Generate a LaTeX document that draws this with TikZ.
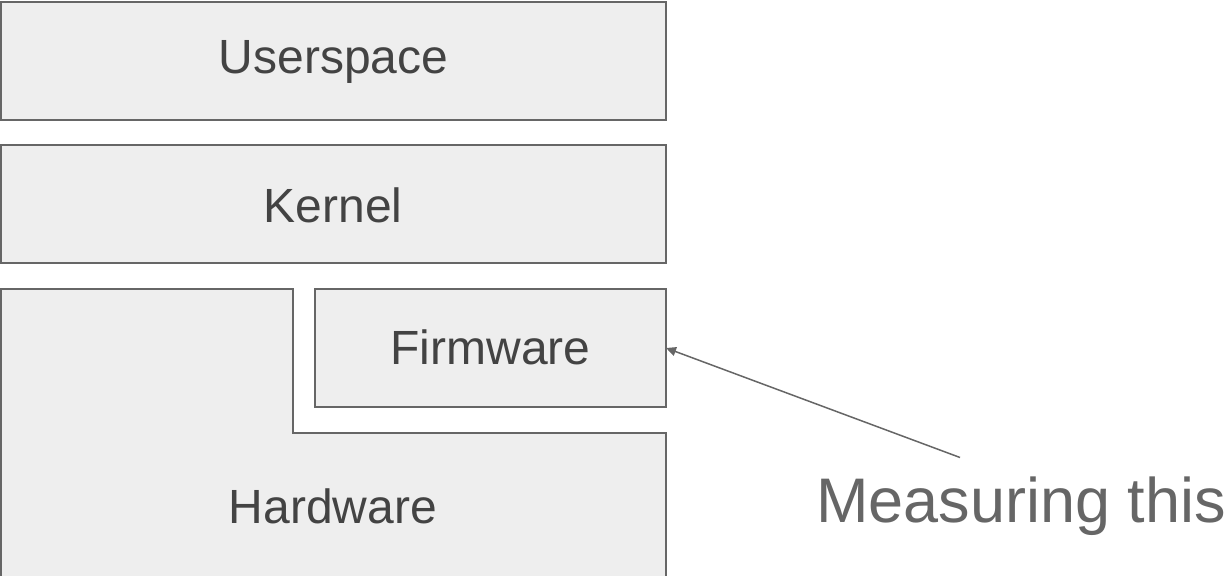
\documentclass[tikz,border=0pt]{standalone}
\usepackage{fontspec}
\setmainfont{Liberation Sans}
\usetikzlibrary{arrows.meta}
\definecolor{boxfill}{HTML}{EEEEEE}
\definecolor{boxline}{HTML}{666666}
\definecolor{labeltext}{HTML}{434343}
\definecolor{notetext}{HTML}{666666}
\tikzset{
  layer/.style={draw=boxline, fill=boxfill, line width=1pt, rectangle, inner sep=0pt, outer sep=0pt},
  layerlabel/.style={anchor=base, inner sep=0pt, text=labeltext, font=\fontsize{24}{28}\selectfont},
  note/.style={anchor=base, inner sep=0pt, text=notetext, font=\fontsize{31.5}{38}\selectfont},
  pointer/.style={draw=boxline, line width=0.75pt, -{Triangle[length=5pt,width=4.5pt]}}
}
\begin{document}
\begin{tikzpicture}[x=0.5pt, y=-0.5pt]
  \useasboundingbox (0,0) rectangle (1229,576);

  % stacked layers
  \node[layer, minimum width=332.5pt, minimum height=59pt] (user) at (333.5,61) {};
  \node[layer, minimum width=332.5pt, minimum height=59pt] (kernel) at (333.5,204) {};
  \node[layer, minimum width=175.5pt, minimum height=59pt] (fw) at (490.5,348) {};

  % hardware wraps around the firmware block
  \draw[draw=boxline, fill=boxfill, line width=1pt, line join=miter]
    (1,289) -- (293,289) -- (293,433) -- (666,433) -- (666,620) -- (1,620) -- cycle;

  % labels
  \node[layerlabel] (userlbl) at (333.5,73.5) {Userspace};
  \node[layerlabel] (kernellbl) at (333,223) {Kernel};
  \node[layerlabel] (fwlbl) at (490.5,364.5) {Firmware};
  \node[layerlabel] (hwlbl) at (333,523) {Hardware};

  % annotation
  \node[note] (meas) at (1021,522.7) {Measuring this};
  \coordinate (tail) at (960,457.5);
  \draw[pointer] (tail) -- (fw.east);
\end{tikzpicture}
\end{document}
